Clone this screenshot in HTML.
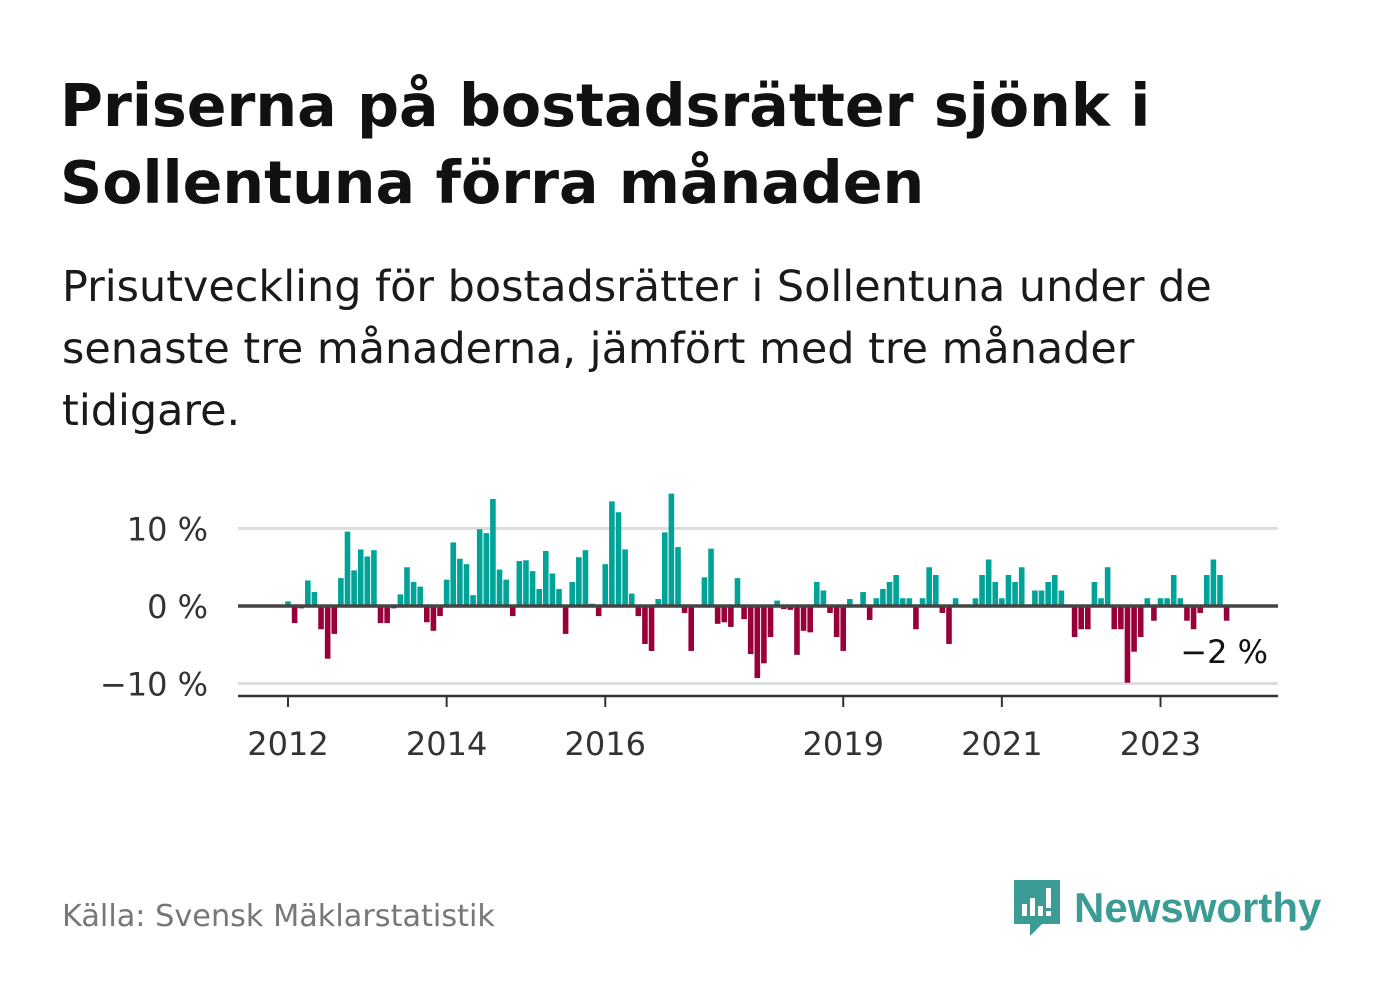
<!DOCTYPE html>
<html><head><meta charset="utf-8">
<style>
body{margin:0;width:1382px;height:999px;background:#fff;font-family:"Liberation Sans",sans-serif;overflow:hidden;position:relative}
h1{position:absolute;left:60px;top:68px;margin:0;font-family:"DejaVu Sans",sans-serif;font-size:58.6px;line-height:77px;font-weight:bold;color:#111;white-space:nowrap}
p.sub{position:absolute;left:62px;top:256px;margin:0;font-family:"DejaVu Sans",sans-serif;font-size:42.9px;line-height:62px;color:#1a1a1a;white-space:nowrap}
.src{position:absolute;left:62px;top:899px;font-family:"DejaVu Sans",sans-serif;font-size:30.3px;color:#777}
.logo{position:absolute;left:1012px;top:878px;display:flex;align-items:center}
.logo span{font-size:42px;font-weight:bold;color:#3a9c94;margin-left:12px}
</style></head><body>
<h1>Priserna på bostadsrätter sjönk i<br>Sollentuna förra månaden</h1>
<p class="sub">Prisutveckling för bostadsrätter i Sollentuna under de<br>senaste tre månaderna, jämfört med tre månader<br>tidigare.</p>
<svg id="chart" width="1382" height="999" style="position:absolute;left:0;top:0" xmlns="http://www.w3.org/2000/svg"></svg>
<div class="src">Källa: Svensk Mäklarstatistik</div>
<div class="logo">
<svg width="50" height="60" viewBox="0 0 50 60"><path d="M2 2h46v44H30l-12 12v-12H2z" fill="#3a9c94"/><rect x="10" y="26" width="5" height="12" fill="#fff"/><rect x="18" y="20" width="5" height="18" fill="#fff"/><rect x="26" y="28" width="5" height="10" fill="#fff"/><rect x="34" y="10" width="5" height="20" fill="#fff"/><rect x="34" y="33" width="5" height="5" fill="#fff"/></svg>
<span>Newsworthy</span></div>
<script>
const startYear = 2012;
const values = [0.6,-2.2,-0.3,3.3,1.8,-3.0,-6.8,-3.6,3.6,9.6,4.6,7.3,
6.4,7.2,-2.2,-2.2,-0.3,1.5,5.0,3.1,2.5,-2.1,-3.2,-1.3,
3.4,8.2,6.1,5.4,1.4,9.9,9.4,13.8,4.7,3.4,-1.3,5.8,
5.9,4.5,2.2,7.1,4.2,2.2,-3.6,3.1,6.3,7.2,0.3,-1.3,
5.4,13.5,12.1,7.3,1.6,-1.3,-4.9,-5.8,0.9,9.5,14.5,7.6,
-0.9,-5.8,null,3.7,7.4,-2.3,-2.1,-2.7,3.6,-1.7,-6.2,-9.3,
-7.4,-4.0,0.7,-0.4,-0.5,-6.3,-3.2,-3.4,3.1,2.0,-0.9,-4.0,
-5.8,0.9,null,1.8,-1.8,1.0,2.2,3.1,4.0,1.0,1.0,-3.0,
1.0,5.0,4.0,-0.9,-4.9,1.0,null,null,1.0,4.0,6.0,3.1,
1.0,4.0,3.1,5.0,null,2.0,2.0,3.1,4.0,2.0,null,-4.0,
-3.0,-3.0,3.1,1.0,5.0,-3.0,-3.0,-9.9,-5.9,-4.0,1.0,-1.9,
1.0,1.0,4.0,1.0,-1.9,-3.0,-0.9,4.0,6.0,4.0,-1.9];
const yTicks = [10, 0, -10];
const yTickLabels = ["10 %", "0 %", "\u221210 %"];
const xTickYears = [2012, 2014, 2016, 2019, 2021, 2023];
const lastLabel = "\u22122 %";

const NS="http://www.w3.org/2000/svg";
const svg=document.getElementById('chart');
const x0=288, monthW=6.61, zeroY=606, pxPer=7.75;
const FONT='DejaVu Sans, sans-serif';
const xScale=m=>x0+m*monthW;
const yScale=v=>zeroY-v*pxPer;
function el(t,a){const e=document.createElementNS(NS,t);for(const k in a)e.setAttribute(k,a[k]);svg.appendChild(e);return e;}
yTicks.forEach((t,i)=>{
  if(t!==0){const g=el('line',{x1:238,x2:1278,y1:yScale(t),y2:yScale(t),stroke:'#dddddd','stroke-width':3});
  
  }
  const tx=el('text',{x:208,y:yScale(t)+12,'text-anchor':'end','font-size':32,fill:'#333','font-family':FONT});
  tx.textContent=yTickLabels[i];
  
  
});
values.forEach((v,m)=>{
  if(v===null)return;
  const y=yScale(Math.max(v,0)), h=Math.abs(v)*pxPer;
  const r=el('rect',{x:xScale(m)-2.8,y:y,width:5.6,height:h,fill:v>=0?'#00a398':'#990039'});
  
  
});
const z=el('line',{x1:238,x2:1278,y1:zeroY,y2:zeroY,stroke:'#444','stroke-width':3.5});


const ax=el('line',{x1:238,x2:1278,y1:696,y2:696,stroke:'#333','stroke-width':2.5});


xTickYears.forEach(yr=>{
  const xx=xScale((yr-startYear)*12);
  const tk=el('line',{x1:xx,x2:xx,y1:696,y2:707,stroke:'#333','stroke-width':2});
  
  
  const tl=el('text',{x:xx,y:755,'text-anchor':'middle','font-size':32,fill:'#333','font-family':FONT});
  tl.textContent=yr;
  
  
});
const ll=el('text',{x:1268,y:663,'text-anchor':'end','font-size':32,fill:'#111','font-family':FONT});
ll.textContent=lastLabel;


</script>
</body></html>
